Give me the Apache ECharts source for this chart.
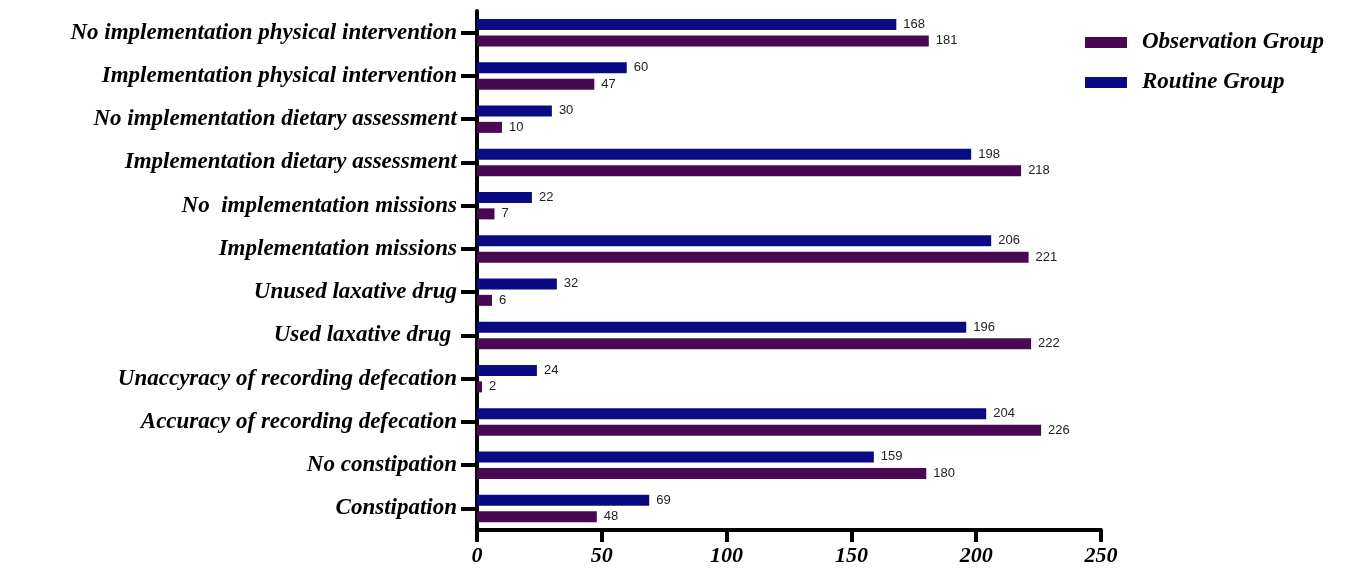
<!DOCTYPE html>
<html>
<head>
<meta charset="utf-8">
<script src="https://cdn.jsdelivr.net/npm/echarts@6/dist/echarts.min.js"></script>
<style>html,body{margin:0;padding:0;background:#fff}#c{width:1367px;height:570px}</style>
</head>
<body>
<div id="c"></div>
<script>
const categories = [
  "No implementation physical intervention",
  "Implementation physical intervention",
  "No implementation dietary assessment",
  "Implementation dietary assessment",
  "No  implementation missions",
  "Implementation missions",
  "Unused laxative drug",
  "Used laxative drug ",
  "Unaccyracy of recording defecation",
  "Accuracy of recording defecation",
  "No constipation",
  "Constipation"
];
const routineGroup = [168, 60, 30, 198, 22, 206, 32, 196, 24, 204, 159, 69];
const observationGroup = [181, 47, 10, 218, 7, 221, 6, 222, 2, 226, 180, 48];
const xTicks = [0, 50, 100, 150, 200, 250];

const serif = '"Liberation Serif","Times New Roman",serif';
const chart = echarts.init(document.getElementById('c'), null, {renderer: 'canvas'});
const labelStyle = {show: true, position: 'right', distance: 7, color: '#222', fontFamily: '"Liberation Sans",Arial,sans-serif', fontSize: 13};
chart.setOption({
  animation: false,
  backgroundColor: '#fff',
  legend: {
    data: ['Observation Group', 'Routine Group'],
    orient: 'vertical',
    left: 1080, top: 26,
    icon: 'rect',
    itemWidth: 42, itemHeight: 11, itemGap: 17,
    textStyle: {fontFamily: serif, fontStyle: 'italic', fontWeight: 'bold', fontSize: 23, color: '#000', padding: [0, 0, 0, 10]}
  },
  grid: {left: 477, right: 266, top: 11, bottom: 40, containLabel: false},
  xAxis: {
    type: 'value', min: xTicks[0], max: xTicks[xTicks.length - 1], interval: 50,
    axisLine: {show: true, lineStyle: {color: '#000', width: 4}},
    axisTick: {show: true, length: 12, lineStyle: {color: '#000', width: 4}},
    splitLine: {show: false},
    axisLabel: {margin: 15, color: '#000', fontFamily: serif, fontStyle: 'italic', fontWeight: 'bold', fontSize: 22}
  },
  yAxis: {
    type: 'category', data: categories, inverse: true,
    axisLine: {show: true, lineStyle: {color: '#000', width: 4}},
    axisTick: {show: true, alignWithLabel: true, length: 16, lineStyle: {color: '#000', width: 4}},
    axisLabel: {margin: 20, color: '#000', fontFamily: serif, fontStyle: 'italic', fontWeight: 'bold', fontSize: 23}
  },
  series: [
    {name: 'Routine Group', type: 'bar', data: routineGroup, barWidth: 11, barGap: '50%',
     itemStyle: {color: '#0a0a82'}, label: labelStyle},
    {name: 'Observation Group', type: 'bar', data: observationGroup, barWidth: 11, barGap: '50%',
     itemStyle: {color: '#480852'}, label: labelStyle}
  ]
});
</script>
</body>
</html>
